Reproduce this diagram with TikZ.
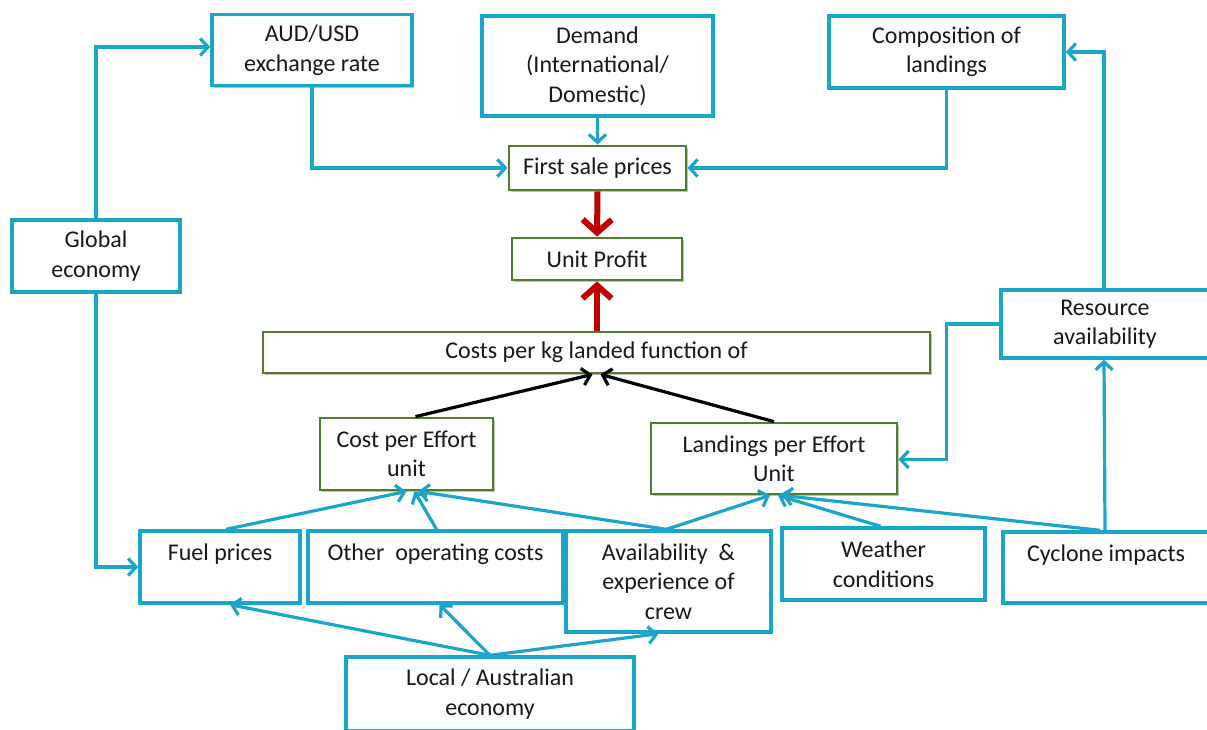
\documentclass[tikz,border=0pt]{standalone}
\usepackage{fontspec}
\setmainfont{Carlito}
\usetikzlibrary{arrows.meta,shadows,calc}
\definecolor{bbl}{HTML}{1AA5CB}
\definecolor{bgr}{HTML}{4F7F2C}
\definecolor{bred}{HTML}{C00000}
\tikzset{
  bbox/.style={draw=bbl, line width=3.4pt, fill=white, inner sep=0pt, align=center,
    font=\fontsize{24}{29.5}\selectfont, text=black!90,
    drop shadow={shadow xshift=2pt, shadow yshift=-2pt, opacity=0.25, fill=black}},
  gbox/.style={bbox, draw=bgr, line width=2.8pt},
  barrow/.style={draw=bbl, line width=3.2pt, -{Straight Barb[length=8pt,width=17pt,line width=3.2pt]}},
  karrow/.style={draw=black, line width=3.2pt, -{Straight Barb[length=8pt,width=17pt,line width=3.2pt]}},
  rarrow/.style={draw=bred, line width=6pt, -{Straight Barb[length=13pt,width=29pt,line width=6pt]}},
}
\begin{document}
\begin{tikzpicture}[x=1pt,y=-1pt]
\useasboundingbox (0,0) rectangle (1207,729);
% nodes
\node[bbox, minimum width=200pt, minimum height=71pt] (aud) at (312,50) {AUD/USD\\exchange rate};
\node[bbox, minimum width=231pt, minimum height=100pt] (dem) at (597.5,66) {Demand\\(International/\\Domestic)};
\node[bbox, minimum width=235pt, minimum height=72pt] (comp) at (946.5,52) {Composition of\\landings};
\node[gbox, minimum width=177pt, minimum height=44pt] (fsp) at (597.5,168) {First sale prices};
\node[gbox, minimum width=170pt, minimum height=42pt] (up) at (597,259) {Unit Profit};
\node[bbox, minimum width=168pt, minimum height=72pt] (glob) at (96,256) {Global\\economy};
\node[bbox, minimum width=208pt, minimum height=68pt] (res) at (1105,324) {Resource\\availability};
\node[gbox, minimum width=667pt, minimum height=41pt] (cpk) at (596.5,352.5) {Costs per kg landed function of};
\node[gbox, minimum width=173pt, minimum height=72pt] (cpe) at (406.5,454) {Cost per Effort\\unit};
\node[gbox, minimum width=246pt, minimum height=71pt] (lpe) at (774,458.5) {Landings per Effort\\Unit};
\node[bbox, minimum width=160pt, minimum height=72pt] (fuel) at (220,567) {Fuel prices\\\mbox{}};
\node[bbox, minimum width=255pt, minimum height=72pt] (oth) at (435.5,567) {Other~~operating costs\\\mbox{}};
\node[bbox, minimum width=205pt, minimum height=101pt] (avail) at (668.5,581.5) {Availability~~\&\\experience of\\crew};
\node[bbox, minimum width=203pt, minimum height=72pt] (wea) at (883.5,564) {Weather\\conditions};
\node[bbox, minimum width=206pt, minimum height=71pt] (cyc) at (1106,567.5) {Cyclone impacts\\\mbox{}};
\node[bbox, minimum width=288pt, minimum height=74pt] (loc) at (490,694) {Local / Australian\\economy};
% blue connectors top
\draw[barrow] (glob.north) |- ([yshift=3pt]aud.west);
\draw[barrow] (glob.south) |- (fuel.west);
\draw[barrow] (aud.south) |- (fsp.west);
\draw[barrow] (dem.south) -- (fsp.north);
\draw[barrow] (comp.south) |- (fsp.east);
\draw[barrow] ([xshift=-1pt]res.north) |- (comp.east);
\draw[barrow] (res.west) -- ++(-53,0) |- ([yshift=-1pt]lpe.east);
\draw[barrow] ([xshift=-1pt]cyc.north) -- ([xshift=-1pt]res.south);
% red
\draw[rarrow] (fsp.south) -- (up.north);
\draw[rarrow] (cpk.north -| up.south) -- (up.south);
% black
\draw[karrow] ([xshift=9pt]cpe.north) -- ([xshift=-4pt]cpk.south);
\draw[karrow] (lpe.north) -- ([xshift=4pt]cpk.south);
% blue into cost per effort
\draw[barrow] ([xshift=6pt]fuel.north) -- ([xshift=0pt]cpe.south);
\draw[barrow] ([xshift=1pt]oth.north) -- ([xshift=8pt]cpe.south);
\draw[barrow] ([xshift=-2pt]avail.north) -- ([xshift=12pt]cpe.south);
% blue into landings per effort
\draw[barrow] ([xshift=-2pt]avail.north) -- ([xshift=-4pt]lpe.south);
\draw[barrow] ([xshift=-3pt]wea.north) -- ([xshift=4pt]lpe.south);
\draw[barrow] ([xshift=-6pt]cyc.north) -- ([xshift=8pt]lpe.south);
% local economy
\draw[barrow] (loc.north) -- ([xshift=10pt]fuel.south);
\draw[barrow] (loc.north) -- ([xshift=4pt]oth.south);
\draw[barrow] (loc.north) -- ([xshift=-10pt]avail.south);
\end{tikzpicture}
\end{document}
